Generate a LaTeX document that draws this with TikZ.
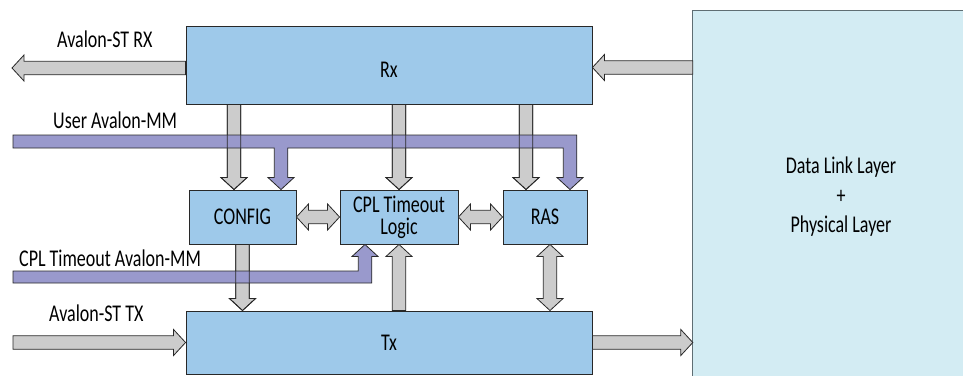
\documentclass[tikz,border=0pt]{standalone}
\usepackage{fontspec}
\setmainfont{Carlito}[FakeStretch=0.75]
\usetikzlibrary{calc}

\definecolor{blockblue}{RGB}{158,201,234}
\definecolor{layerblue}{RGB}{211,236,243}
\definecolor{busgray}{RGB}{204,204,204}
\definecolor{mmpurple}{RGB}{153,153,204}
\definecolor{edgegray}{RGB}{40,40,40}
\definecolor{layeredge}{RGB}{95,110,115}

% block-arrow geometry
\newcommand\fatshaft{6.75pt}
\newcommand\fathead{13pt}
\newcommand\fatlen{12pt}

% vertical block arrow: #1 style, #2 x reference, #3 tail, #4 tip
\newcommand\blockV[4]{\path[#1] let \p1=#3, \p2=#4, \p3=#2, \n1={sign(\y2-\y1)} in
  ({\x3-\fatshaft},\y1) -- ({\x3-\fatshaft},{\y2-(\n1)*\fatlen}) -- ({\x3-\fathead},{\y2-(\n1)*\fatlen})
  -- (\x3,\y2) -- ({\x3+\fathead},{\y2-(\n1)*\fatlen}) -- ({\x3+\fatshaft},{\y2-(\n1)*\fatlen})
  -- ({\x3+\fatshaft},\y1) -- cycle;}
% horizontal block arrow: #1 style, #2 y reference, #3 tail, #4 tip
\newcommand\blockH[4]{\path[#1] let \p1=#3, \p2=#4, \p3=#2, \n1={sign(\x2-\x1)} in
  (\x1,{\y3-\fatshaft}) -- ({\x2-(\n1)*\fatlen},{\y3-\fatshaft}) -- ({\x2-(\n1)*\fatlen},{\y3-\fathead})
  -- (\x2,\y3) -- ({\x2-(\n1)*\fatlen},{\y3+\fathead}) -- ({\x2-(\n1)*\fatlen},{\y3+\fatshaft})
  -- (\x1,{\y3+\fatshaft}) -- cycle;}
% vertical double-headed block arrow
\newcommand\blockVV[4]{\path[#1] let \p1=#3, \p2=#4, \p3=#2, \n1={sign(\y2-\y1)} in
  ({\x3-\fatshaft},{\y1+(\n1)*\fatlen}) -- ({\x3-\fatshaft},{\y2-(\n1)*\fatlen}) -- ({\x3-\fathead},{\y2-(\n1)*\fatlen})
  -- (\x3,\y2) -- ({\x3+\fathead},{\y2-(\n1)*\fatlen}) -- ({\x3+\fatshaft},{\y2-(\n1)*\fatlen})
  -- ({\x3+\fatshaft},{\y1+(\n1)*\fatlen}) -- ({\x3+\fathead},{\y1+(\n1)*\fatlen}) -- (\x3,\y1)
  -- ({\x3-\fathead},{\y1+(\n1)*\fatlen}) -- cycle;}
% horizontal double-headed block arrow
\newcommand\blockHH[4]{\path[#1] let \p1=#3, \p2=#4, \p3=#2, \n1={sign(\x2-\x1)} in
  ({\x1+(\n1)*\fatlen},{\y3-\fatshaft}) -- ({\x2-(\n1)*\fatlen},{\y3-\fatshaft}) -- ({\x2-(\n1)*\fatlen},{\y3-\fathead})
  -- (\x2,\y3) -- ({\x2-(\n1)*\fatlen},{\y3+\fathead}) -- ({\x2-(\n1)*\fatlen},{\y3+\fatshaft})
  -- ({\x1+(\n1)*\fatlen},{\y3+\fatshaft}) -- ({\x1+(\n1)*\fatlen},{\y3+\fathead}) -- (\x1,\y3)
  -- ({\x1+(\n1)*\fatlen},{\y3-\fathead}) -- cycle;}

\tikzset{
  block/.style={draw=edgegray, fill=blockblue, line width=0.9pt, inner sep=0pt},
  grayarrow/.style={draw=edgegray, fill=busgray, line width=0.8pt, line join=miter},
  grayedge/.style={draw=edgegray, line width=0.8pt, line join=miter},
  purplebus/.style={draw=edgegray, fill=mmpurple, line width=0.8pt, line join=miter},
  sidelabel/.style={anchor=base west, inner sep=0pt},
}

\begin{document}
\begin{tikzpicture}[x=1pt, y=-1pt, font=\fontsize{24}{22}\selectfont]
\clip (0,0) rectangle (963,375);

% physical side
\node[fill=layerblue, minimum width=296pt, minimum height=372pt, align=center, inner sep=0pt]
  (dll) at (841,197) {Data Link Layer\\[7.5pt]+\\[7.5pt]Physical Layer};
\draw[layeredge, line width=1.1pt] (dll.south west) -- (dll.north west) -- (dll.north east);

% transaction-layer blocks
\node[block, minimum width=406pt, minimum height=78pt, text height=25.3pt] (rx) at (389,65) {Rx};
\node[block, minimum width=406pt, minimum height=63pt] (tx) at (389,342.5) {Tx};
\node[block, minimum width=107pt, minimum height=54pt] (config) at (242.5,217) {CONFIG};
\node[block, minimum width=118pt, minimum height=54pt, align=center] (cpl) at (399,217) {CPL Timeout\\Logic};
\node[block, minimum width=84pt, minimum height=54pt] (ras) at (545,217) {RAS};

% free ends of the external interfaces
\coordinate (rxout) at (12,68);
\coordinate (txin) at (13,342.5);
\coordinate (usermm) at (13,141.5);
\coordinate (cplmm) at (13,277);

% streaming paths
\blockH{grayarrow}{([yshift=-3pt]rx.west)}{(rx.west)}{(rxout)}
\blockH{grayarrow}{([yshift=-2.5pt]rx.east)}{(dll.west)}{(rx.east)}
\blockH{grayarrow}{(tx.west)}{(txin)}{(tx.west)}
\blockH{grayarrow}{(tx.east)}{(tx.east)}{(dll.west)}

% internal paths
\blockV{grayarrow}{([xshift=-8.5pt]config.north)}{(rx.south)}{(config.north)}
\blockV{grayarrow}{(cpl.north)}{(rx.south)}{(cpl.north)}
\blockV{grayarrow}{([xshift=-19pt]ras.north)}{(rx.south)}{(ras.north)}
\blockV{grayarrow}{(config.south)}{(config.south)}{(tx.north)}
\blockV{grayarrow}{(cpl.south)}{(tx.north)}{(cpl.south)}
\blockHH{grayarrow}{(config.east)}{(config.east)}{(cpl.west)}
\blockHH{grayarrow}{(cpl.east)}{(cpl.east)}{(ras.west)}
\blockVV{grayarrow}{([xshift=5pt]ras.south)}{(ras.south)}{(tx.north)}

% User Avalon-MM bus, branching to CONFIG and RAS
\path[purplebus] let \p0=(usermm), \p1=([xshift=25pt]ras.north), \p2=([xshift=38.5pt]config.north) in
  (\x0,{\y0+6.5pt}) -- ({\x1+\fatshaft},{\y0+6.5pt}) -- ({\x1+\fatshaft},{\y1+\fatlen})
  -- ({\x1+\fathead},{\y1+\fatlen}) -- (\x1,\y1) -- ({\x1-\fathead},{\y1+\fatlen})
  -- ({\x1-\fatshaft},{\y1+\fatlen}) -- ({\x1-\fatshaft},{\y0-6.5pt})
  -- ({\x2+\fatshaft},{\y0-6.5pt}) -- ({\x2+\fatshaft},{\y2+\fatlen})
  -- ({\x2+\fathead},{\y2+\fatlen}) -- (\x2,\y2) -- ({\x2-\fathead},{\y2+\fatlen})
  -- ({\x2-\fatshaft},{\y2+\fatlen}) -- ({\x2-\fatshaft},{\y0-6.5pt}) -- (\x0,{\y0-6.5pt}) -- cycle;

% CPL Timeout Avalon-MM bus into the timeout logic
\path[purplebus] let \p0=(cplmm), \p1=([xshift=-34pt]cpl.south) in
  (\x0,{\y0+6pt}) -- ({\x1-\fatshaft},{\y0+6pt}) -- ({\x1-\fatshaft},{\y1-\fatlen})
  -- ({\x1-\fathead},{\y1-\fatlen}) -- (\x1,\y1) -- ({\x1+\fathead},{\y1-\fatlen})
  -- ({\x1+\fatshaft},{\y1-\fatlen}) -- ({\x1+\fatshaft},{\y0-6pt}) -- (\x0,{\y0-6pt}) -- cycle;

% outlines of the paths that run under the buses
\blockV{grayedge}{([xshift=-8.5pt]config.north)}{(rx.south)}{(config.north)}
\blockV{grayedge}{(cpl.north)}{(rx.south)}{(cpl.north)}
\blockV{grayedge}{([xshift=-19pt]ras.north)}{(rx.south)}{(ras.north)}
\blockV{grayedge}{(config.south)}{(config.south)}{(tx.north)}

% interface names
\node[sidelabel] (lblrx) at (57,47) {Avalon-ST RX};
\node[sidelabel] (lbluser) at (53,128) {User Avalon-MM};
\node[sidelabel] (lblcpl) at (19,266) {CPL Timeout Avalon-MM};
\node[sidelabel] (lbltx) at (49,321) {Avalon-ST TX};
\end{tikzpicture}
\end{document}
